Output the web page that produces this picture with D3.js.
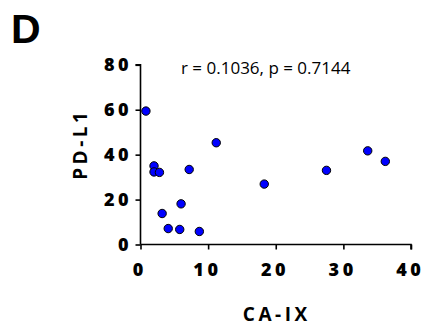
<!DOCTYPE html>
<html><head><meta charset="utf-8">
<script src="https://cdn.jsdelivr.net/npm/d3@7"></script>
<style>body{margin:0;background:#fff}svg{display:block}</style>
</head><body>
<script>
const caix = [0.8, 2.0, 2.0, 2.8, 3.2, 4.1, 5.8, 6.0, 7.2, 8.7, 11.2, 18.3, 27.5, 33.6, 36.2];
const pdl1 = [59.4, 35.0, 32.3, 32.1, 13.8, 7.1, 6.7, 18.1, 33.4, 5.8, 45.3, 26.9, 33.0, 41.7, 37.0];
const xTicks = [0, 10, 20, 30, 40];
const yTicks = [0, 20, 40, 60, 80];
const statText = "r = 0.1036, p = 0.7144";

const W = 425, H = 327;
const svg = d3.select("body").append("svg").attr("width", W).attr("height", H);
const x = d3.scaleLinear().domain([0, 40]).range([140.5, 411]);
const y = d3.scaleLinear().domain([0, 80]).range([244.5, 64.8]);
const tickFont = "'Open Sans', 'DejaVu Sans', sans-serif";

// spread glyphs without trailing space
function spread(sel, gap) {
  sel.each(function () {
    const n = this.textContent.length;
    if (n > 1) {
      const w = this.getComputedTextLength();
      d3.select(this).attr("textLength", w + gap * (n - 1)).attr("lengthAdjust", "spacing");
    }
  });
}

svg.append("text").attr("x", 11).attr("y", 43).attr("font-family", "'Liberation Sans', Arial, sans-serif")
  .attr("font-weight", "bold").attr("font-size", 41).text("D");

const xa = svg.append("g").attr("transform", `translate(0,${y(0)})`)
  .call(d3.axisBottom(x).tickValues(xTicks).tickSize(5).tickPadding(14).tickFormat(d3.format("d")));
const ya = svg.append("g").attr("transform", `translate(${x(0)},0)`)
  .call(d3.axisLeft(y).tickValues(yTicks).tickSize(5).tickPadding(7).tickFormat(d3.format("d")));
[xa, ya].forEach(g => {
  g.select(".domain").attr("stroke", "#000").attr("stroke-width", 1.6);
  g.selectAll(".tick line").attr("stroke", "#000").attr("stroke-width", 1.6);
  g.selectAll(".tick text").attr("font-family", tickFont).attr("font-weight", 800)
    .attr("font-size", 18).attr("fill", "#000").call(spread, 3.5);
});
ya.select(".domain").attr("d", `M-5,${y(80)}H0V${y(0)}`);
xa.select(".domain").attr("d", `M${x(0)},0H${x(40)}V5`);
xa.selectAll(".tick text").attr("dx", -3);

svg.append("text").attr("x", 275).attr("y", 321).attr("text-anchor", "middle")
  .attr("font-family", tickFont).attr("font-weight", "bold").attr("font-size", 19)
  .text("CA-IX").call(spread, 3.5);

svg.append("text").attr("transform", `translate(87,146) rotate(-90)`).attr("text-anchor", "middle")
  .attr("font-family", tickFont).attr("font-weight", "bold").attr("font-size", 19)
  .text("PD-L1").call(spread, 3.5);

svg.append("text").attr("x", 181).attr("y", 74).attr("font-family", tickFont)
  .attr("font-size", 17).attr("fill", "#000").text(statText);

svg.append("g").selectAll("circle").data(caix.map((v, i) => [v, pdl1[i]])).join("circle")
  .attr("cx", d => x(d[0])).attr("cy", d => y(d[1])).attr("r", 4.2)
  .attr("fill", "#0000ff").attr("stroke", "#000").attr("stroke-width", 1);
</script>
</body></html>
